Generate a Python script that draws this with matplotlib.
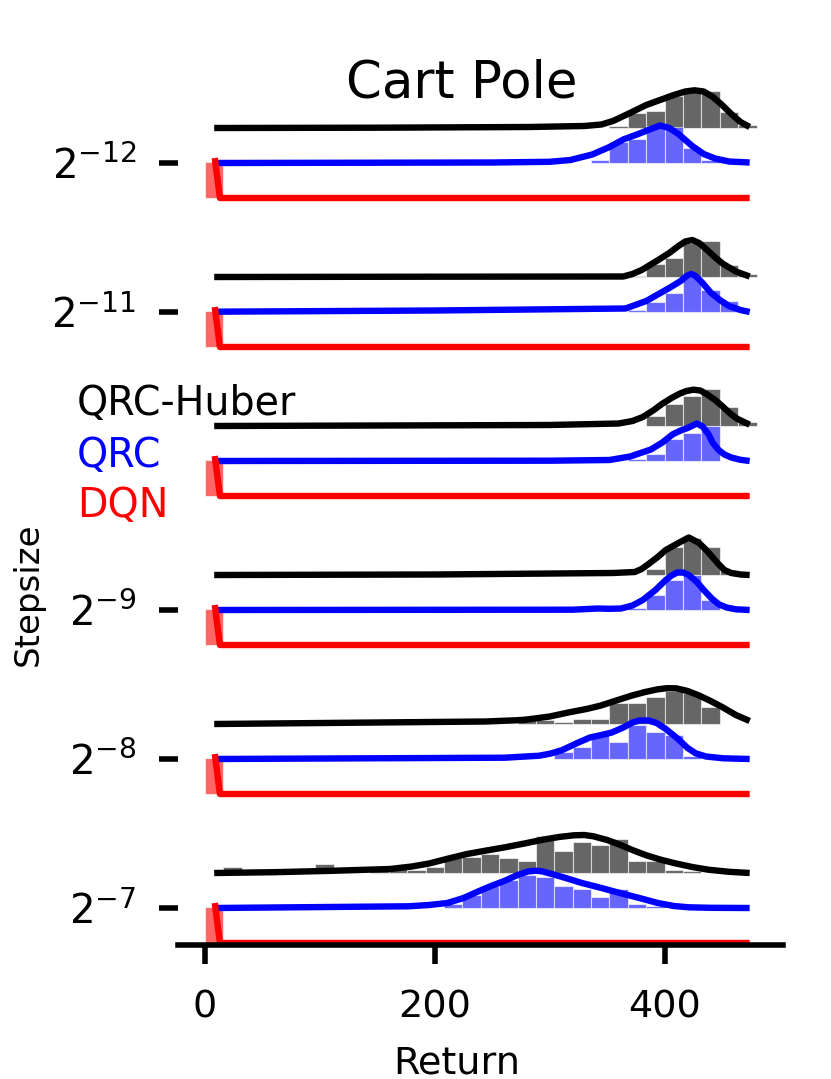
import matplotlib
matplotlib.use("Agg")
import matplotlib.pyplot as plt

# ---------------- data ----------------
STEPSIZE_LABELS = ["$2^{-12}$", "$2^{-11}$", "$2^{-10}$", "$2^{-9}$", "$2^{-8}$", "$2^{-7}$"]
SHOW_TICK = [True, True, False, True, True, True]
ALGOS = ["QRC-Huber", "QRC", "DQN"]
ALGO_COLORS = ["black", "blue", "red"]

BIN_EDGES = list(range(0, 481, 16))  # 30 bins of width 16 in return units

# histogram heights per bin (ridge units)
HUBER_12 = [0,0,0,0,0,0,0,0,0,0, 0,0,0,0,0,0,0,0,0,0, 0,0,2,15,17,32,37,37,16,3]
QRC_12   = [0,0,0,0,0,0,0,0,0,0, 0,0,0,0,0,0,0,0,0,0, 0,3,21,24,37,36,15,3,1,0.5]
HUBER_11 = [0,0,0,0,0,0,0,0,0,0, 0,0,0,0,0,0,0,0,0,0, 0,0,0,1,13,19,34.5,36,12,3.5]
QRC_11   = [0,0,0,0,0,0,0,0,0,0, 0,0,0,0,0,0,0,0,0,0, 0,0,0,2,10,19.5,35,22,11.5,0.5]
HUBER_10 = [0,0,0,0,0,0,0,0,0,0, 0,0,0,0,0,0,0,0,0,0, 0,0,0,0.5,10.5,22,30.5,37,19.5,4]
QRC_10   = [0,0,0,0,0,0,0,0,0,0, 0,0,0,0,0,0,0,0,0,0, 0,0,0,1.7,7,22,28.5,35,0,0.5]
HUBER_9  = [0,0,0,0,0,0,0,0,0,0, 0,0,0,0,0,0,0,0,0,0, 0,0,0,0,6.5,28,37,28,5,0]
QRC_9    = [0,0,0,0,0,0,0,0,0,0, 0,0,0,0,0,0,0,0,0,0, 0,0,0,2.3,15.3,30,35.3,9.7,0,0]
HUBER_8  = [0,0,0,0,0,0,0,0,0,0, 0,0,0,0,0,0,0,8.3,4.3,1.7, 5,5,20.7,20.7,26.7,32.7,30.7,16.7,0,0]
QRC_8    = [0,0,0,0,0,0,0,0,0,0, 0,0,0,0,0,0,0,0,0,7.3, 12.3,24,17.3,34,27.3,24,3.3,0,0,0]
HUBER_7  = [0,6.5,0,0,0,0,9.5,0,0,3, 4.5,3,6.5,15,15.7,19,15,12.3,36.7,21.7, 30.7,27.7,34,12.3,12.3,3.3,1.7,0,0,0]
QRC_7    = [0,0,0,0,0,0,0,0,0,0, 0,0,0,4,12.7,21.7,28.3,33.3,30.7,21.7, 19.3,10.7,19.3,4,1.7,0,0,0,0,0]
DQN_BARS = [36,0,0,0,0,0,0,0,0,0, 0,0,0,0,0,0,0,0,0,0, 0,0,0,0,0,0,0,0,0,0]

# density curves (return, ridge height)
HUBER_12_LX = [8, 150, 282, 330, 345, 355, 368, 384, 396, 408, 418, 426, 434, 442, 450, 458, 466, 474]
HUBER_12_LY = [0, 0.3, 1, 2, 3.5, 7, 14, 23, 28, 33, 36.5, 37.7, 36.5, 31, 23, 14, 6, 1]
QRC_12_LX = [8, 250, 300, 318, 337, 352, 364, 377, 388, 396, 404, 412, 424, 434, 444, 456, 474]
QRC_12_LY = [0, 0.5, 1.2, 3, 8.5, 16, 23.5, 29, 34, 37.5, 35, 29, 17, 9, 4.5, 1.5, 0.5]

HUBER_11_LX = [8, 200, 364, 372, 380, 393, 404, 412, 418, 424, 430, 437, 444, 451, 462, 474]
HUBER_11_LY = [0, 0.3, 0.5, 3, 7, 16, 24, 31, 35.5, 37, 34, 27, 19.5, 13, 5.5, 0.5]
QRC_11_LX = [8, 200, 366, 384, 404, 414, 419, 423, 427, 433, 440, 448, 456, 466, 474]
QRC_11_LY = [0.3, 1.5, 3.5, 11, 24, 31, 36, 38, 36, 29, 19.5, 12, 6, 2, 0]

HUBER_10_LX = [8, 300, 360, 372, 381, 390, 398, 406, 413, 419, 425, 431, 436, 444, 451, 457, 463, 474]
HUBER_10_LY = [0, 1, 2.5, 5, 9, 15.5, 22.3, 28, 32.3, 35, 36.3, 35.5, 32.3, 26, 19, 12.5, 7.3, 1.3]
QRC_10_LX = [8, 300, 352, 370, 388, 398, 407, 414, 420, 428, 433, 438, 442, 447, 452, 458, 466, 474]
QRC_10_LY = [0, 0.3, 1, 4.5, 11.5, 18.5, 26.7, 30.5, 33, 37.5, 34.5, 27, 18, 11, 6.5, 3.5, 1.2, 0]

HUBER_9_LX = [8, 200, 355, 374, 380, 386, 394, 401, 412, 421, 430, 437, 446, 452, 458, 466, 474]
HUBER_9_LY = [0, 0.5, 2, 3, 6, 11, 18, 25, 32, 37.5, 32, 24, 12, 5, 2, 0.5, 0]
QRC_9_LX = [8, 320, 342, 352, 362, 372, 381, 392, 401, 406, 411, 416, 421, 428, 434, 441, 447, 454, 462, 474]
QRC_9_LY = [0, 0.3, 1.5, 1.2, 1.5, 4.5, 10, 20, 30, 34.5, 37.5, 37.5, 35, 28, 20, 11.5, 5.7, 2.5, 0.7, 0]

HUBER_8_LX = [8, 244, 277, 300, 317, 332, 344, 358, 371, 383, 394, 402, 410, 420, 430, 440, 450, 462, 474]
HUBER_8_LY = [0, 2.5, 4, 7.5, 11.7, 15, 18.3, 23.5, 28.3, 32, 34.7, 35.8, 35.7, 33, 28.5, 23, 17, 9, 3]
QRC_8_LX = [8, 261, 291, 301, 311, 323, 335, 345, 354, 364, 372, 378, 386, 393, 401, 411, 420, 427, 436, 451, 474]
QRC_8_LY = [0, 1.3, 3.3, 5.5, 9, 15.5, 21.5, 24, 26.5, 31.5, 36.5, 38.5, 38.5, 36, 30, 20.7, 11, 5.7, 2.5, 0.7, 0]

HUBER_7_LX = [8, 60, 111, 161, 180, 195, 212, 228, 245, 261, 278, 294, 308, 321, 330, 338, 350, 361, 373, 384, 396, 408, 424, 438, 456, 474]
HUBER_7_LY = [0, 0.8, 2.2, 4, 6.5, 9.5, 14.5, 19, 22.5, 25.7, 29.5, 33.3, 36, 37.7, 38, 36.7, 33, 28.3, 22.5, 17.7, 13.5, 10, 6, 3.3, 1.2, 0]
QRC_7_LX = [8, 177, 195, 211, 225, 238, 250, 261, 271, 281, 288, 294, 311, 328, 345, 361, 378, 394, 408, 421, 440, 474]
QRC_7_LY = [0, 1.7, 3, 5, 10, 16.7, 22.5, 27.3, 32.5, 36.5, 37.3, 36.5, 31, 25, 20, 15, 10, 5, 2, 0.7, 0.2, 0]

DQN_LX = [8.5, 13, 474]
DQN_LY = [40, 0, 0]

X_TICKS = [0, 200, 400]

# ------------- assemble rows ---------------
groups = [
    (HUBER_12, HUBER_12_LX, HUBER_12_LY, QRC_12, QRC_12_LX, QRC_12_LY),
    (HUBER_11, HUBER_11_LX, HUBER_11_LY, QRC_11, QRC_11_LX, QRC_11_LY),
    (HUBER_10, HUBER_10_LX, HUBER_10_LY, QRC_10, QRC_10_LX, QRC_10_LY),
    (HUBER_9, HUBER_9_LX, HUBER_9_LY, QRC_9, QRC_9_LX, QRC_9_LY),
    (HUBER_8, HUBER_8_LX, HUBER_8_LY, QRC_8, QRC_8_LX, QRC_8_LY),
    (HUBER_7, HUBER_7_LX, HUBER_7_LY, QRC_7, QRC_7_LX, QRC_7_LY),
]

W, H = 831, 1079
fig = plt.figure(figsize=(W / 100, H / 100), dpi=100)
ax_left, ax_right, ax_bottom, ax_top = 178, 783, 945, 50
ax = fig.add_axes([ax_left / W, (H - ax_bottom) / H, (ax_right - ax_left) / W, (ax_bottom - ax_top) / H])

GROUP_SPACING = 149
ROW_SPACING = 35
centers = [(BIN_EDGES[i] + BIN_EDGES[i + 1]) / 2 for i in range(len(BIN_EDGES) - 1)]
width = BIN_EDGES[1] - BIN_EDGES[0]

tick_pos, tick_lab = [], []
n = len(groups)
for g, (hb, hlx, hly, qb, qlx, qly) in enumerate(groups):
    red_base = GROUP_SPACING * (n - 1 - g)
    rows = [
        (hb, hlx, hly, red_base + 2 * ROW_SPACING, ALGO_COLORS[0]),
        (qb, qlx, qly, red_base + ROW_SPACING, ALGO_COLORS[1]),
        (DQN_BARS, DQN_LX, DQN_LY, red_base, ALGO_COLORS[2]),
    ]
    for bars, lx, ly, base, col in rows:
        xs = [c for c, b in zip(centers, bars) if b > 0]
        hs = [b for b in bars if b > 0]
        ax.bar(xs, hs, width=width, bottom=base, color=col, alpha=0.6,
               edgecolor="white", linewidth=0.8, zorder=1)
        ax.plot(lx, [base + v for v in ly], color=col, lw=4.6, zorder=3,
                solid_capstyle="butt", solid_joinstyle="round")
    if SHOW_TICK[g]:
        tick_pos.append(red_base + ROW_SPACING)
        tick_lab.append(STEPSIZE_LABELS[g])

ax.set_xlim(-23.5, 503)
ax.set_ylim(-2, -2 + (ax_bottom - ax_top))
ax.set_xticks(X_TICKS)
ax.set_xticklabels([str(t) for t in X_TICKS])
ax.set_yticks(tick_pos)
ax.set_yticklabels(tick_lab)
for s in ["left", "top", "right"]:
    ax.spines[s].set_visible(False)
ax.spines["bottom"].set_linewidth(4)
ax.spines["bottom"].set_zorder(4)
ax.tick_params(axis="both", length=14, width=4, direction="out")
ax.tick_params(axis="x", pad=18, labelsize=27.5)
ax.tick_params(axis="y", pad=16, labelsize=29)

# texts
fig.text(462 / W, 1 - 97 / H, "Cart Pole", ha="center", va="baseline", fontsize=37)
fig.text(457 / W, 1 - 1073 / H, "Return", ha="center", va="baseline", fontsize=27.5)
fig.text(28 / W, 1 - 594 / H, "Stepsize", ha="center", va="center", rotation=90, fontsize=24.5)
for name, col, yb in zip(ALGOS, ALGO_COLORS, [415, 467, 517]):
    fig.text(77 / W, 1 - yb / H, name, ha="left", va="baseline", fontsize=28.5, color=col)

fig.savefig("out.png", dpi=100)
